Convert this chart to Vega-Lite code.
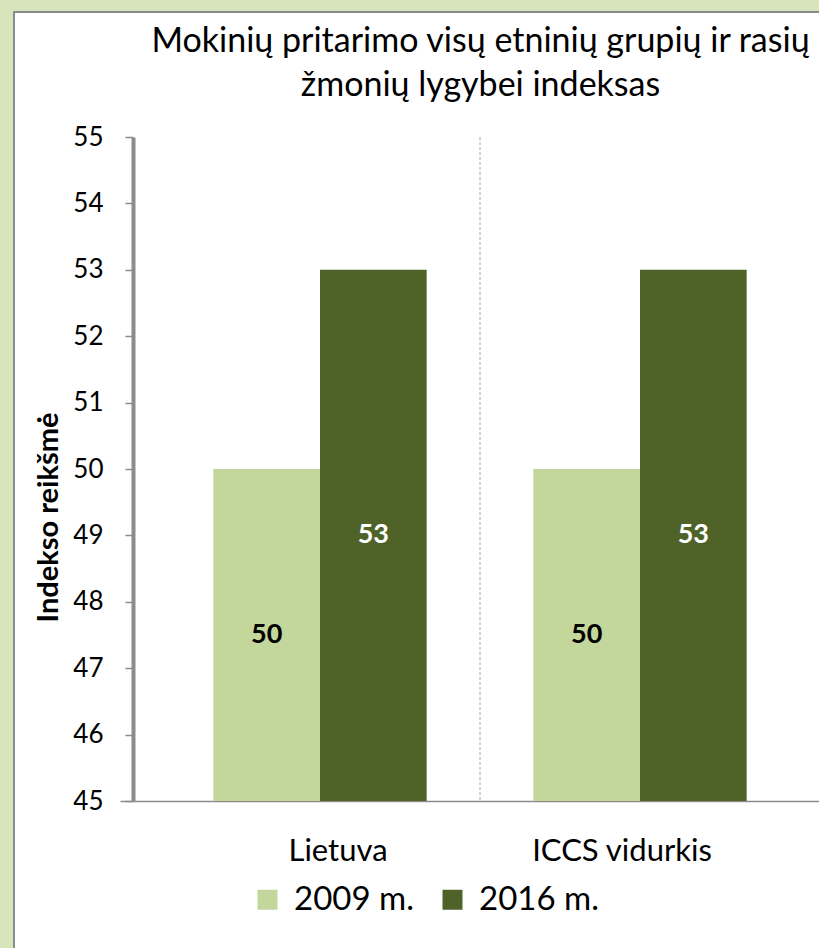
{
  "$schema": "https://vega.github.io/schema/vega-lite/v6.json",
  "width": 805,
  "height": 936,
  "autosize": {"type": "none"},
  "padding": {"left": 14, "top": 12, "right": 0, "bottom": 0},
  "background": "#d8e4bc",
  "config": {
    "view": {"fill": "#ffffff", "stroke": "#8a8a8a", "strokeWidth": 2, "strokeDash": [805, 1741, 936]},
    "font": "Lato",
    "axisY": {
      "orient": "left",
      "offset": -119,
      "grid": false,
      "domainColor": "#8c8c8c",
      "domainWidth": 4,
      "tickColor": "#8c8c8c",
      "tickWidth": 1.5,
      "tickSize": 8,
      "labelFont": "Lato",
      "labelFontSize": 26,
      "labelColor": "#000000",
      "labelPadding": 22,
      "titleFont": "Lato",
      "titleFontSize": 29,
      "titleFontWeight": "bold",
      "titleColor": "#000000",
      "titleAngle": -90,
      "titleX": -76,
      "titleY": 505,
      "titleAlign": "center",
      "titleBaseline": "alphabetic"
    },
    "axisX": {
      "offset": -147,
      "grid": false,
      "ticks": false,
      "tickSize": 0,
      "domainColor": "#8c8c8c",
      "domainWidth": 1.5,
      "labelFont": "Lato",
      "labelFontSize": 31,
      "labelColor": "#000000",
      "labelPadding": 35,
      "labelAngle": 0,
      "labelLimit": 500
    }
  },
  "title": {
    "text": ["Mokinių pritarimo visų etninių grupių ir rasių", "žmonių lygybei indeksas"],
    "font": "Lato",
    "fontSize": 34,
    "fontWeight": "normal",
    "color": "#000000",
    "anchor": "middle",
    "frame": "group",
    "dx": 64,
    "baseline": "top",
    "offset": -91,
    "lineHeight": 44
  },
  "data": {
    "values": [
      {"category": "Lietuva", "year": "2009 m.", "value": 50},
      {"category": "Lietuva", "year": "2016 m.", "value": 53},
      {"category": "ICCS vidurkis", "year": "2009 m.", "value": 50},
      {"category": "ICCS vidurkis", "year": "2016 m.", "value": 53}
    ]
  },
  "encoding": {
    "x": {
      "field": "category",
      "type": "nominal",
      "sort": ["Lietuva", "ICCS vidurkis"],
      "scale": {"range": [106, 826], "paddingInner": 0, "paddingOuter": 0.125},
      "axis": {
        "title": null,
        "labelOffset": {"condition": {"test": "datum.value === 'Lietuva'", "value": 18}, "value": -18}
      }
    },
    "y": {
      "field": "value",
      "type": "quantitative",
      "scale": {"domain": [45, 55], "range": [789, 125], "zero": false, "nice": false},
      "axis": {
        "values": [45, 46, 47, 48, 49, 50, 51, 52, 53, 54, 55],
        "format": "d",
        "title": "Indekso reikšmė"
      }
    }
  },
  "layer": [
    {
      "transform": [{"filter": "datum.category === 'ICCS vidurkis' && datum.year === '2009 m.'"}],
      "mark": {"type": "rule", "color": "#a6a6a6", "strokeWidth": 1, "strokeDash": [3, 2]},
      "encoding": {
        "x": {
          "field": "category",
          "type": "nominal",
          "bandPosition": 0,
          "axis": {
            "title": null,
            "labelOffset": {"condition": {"test": "datum.value === 'Lietuva'", "value": 18}, "value": -18}
          }
        },
        "y": {
          "datum": 55,
          "type": "quantitative",
          "axis": {
            "values": [45, 46, 47, 48, 49, 50, 51, 52, 53, 54, 55],
            "format": "d",
            "title": "Indekso reikšmė"
          }
        },
        "y2": {"datum": 45}
      }
    },
    {
      "mark": {"type": "bar"},
      "encoding": {
        "xOffset": {
          "field": "year",
          "type": "nominal",
          "sort": ["2009 m.", "2016 m."],
          "scale": {"paddingInner": 0, "paddingOuter": 0.5}
        },
        "y2": {"datum": 45},
        "color": {
          "field": "year",
          "type": "nominal",
          "scale": {"domain": ["2009 m.", "2016 m."], "range": ["#c3d69b", "#4f6228"]},
          "legend": {
            "orient": "none",
            "legendX": 237,
            "legendY": 871,
            "direction": "horizontal",
            "title": null,
            "symbolType": "square",
            "symbolSize": 400,
            "symbolStrokeWidth": 0,
            "labelFont": "Lato",
            "labelFontSize": 33,
            "labelColor": "#000000",
            "labelOffset": 10,
            "columnPadding": 22,
            "padding": 0
          }
        }
      }
    },
    {
      "transform": [{"calculate": "(datum.value + 45) / 2", "as": "mid"}],
      "mark": {"type": "text", "font": "Lato", "fontSize": 27, "fontWeight": "bold", "baseline": "middle", "align": "center"},
      "encoding": {
        "xOffset": {"field": "year", "type": "nominal", "sort": ["2009 m.", "2016 m."]},
        "y": {
          "field": "mid",
          "type": "quantitative",
          "axis": {
            "values": [45, 46, 47, 48, 49, 50, 51, 52, 53, 54, 55],
            "format": "d",
            "title": "Indekso reikšmė"
          }
        },
        "text": {"field": "value", "type": "quantitative"},
        "color": {"condition": {"test": "datum.year === '2016 m.'", "value": "#ffffff"}, "value": "#000000"}
      }
    }
  ]
}
